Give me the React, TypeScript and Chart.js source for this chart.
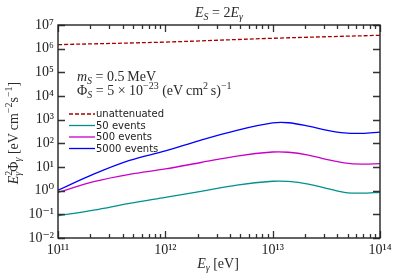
import React, { useEffect, useRef } from "react";
import { Chart, registerables } from "chart.js";

Chart.register(...registerables);

// ---- data ----
const energies = [1e11, 2.15e11, 4.64e11, 1e12, 2.15e12, 4.64e12, 1e13, 1.4e13, 2.15e13, 3.16e13, 4.64e13, 6.8e13, 1e14];
const flux5000 = [1.05, 5.0, 19, 48, 138, 355, 725, 740, 537, 363, 275, 263, 295];
const flux500 = [0.85, 2.4, 4.9, 8.3, 15.5, 29, 43, 42, 32, 21, 15, 13.2, 14];
const flux50 = [0.087, 0.15, 0.29, 0.52, 0.93, 1.72, 2.5, 2.45, 1.9, 1.26, 0.85, 0.78, 0.85];
const unattEnergies = [1e11, 1e12, 1e13, 1e14];
const unattFlux = [1.48e6, 1.9e6, 2.75e6, 3.67e6];

const seriesLabels = ["unattenuated", "50 events", "500 events", "5000 events"];
const seriesColors = ["#a50000", "#009090", "#c800c8", "#0000ff"];
const xDecades = [11, 12, 13, 14];
const yDecades = [-2, -1, 0, 1, 2, 3, 4, 5, 6, 7];

const SUP: Record<string, string> = {
  "0": "\u2070", "1": "\u00b9", "2": "\u00b2", "3": "\u00b3", "4": "\u2074",
  "5": "\u2075", "6": "\u2076", "7": "\u2077", "8": "\u2078", "9": "\u2079", "-": "\u207b",
};
const sup = (n: number) => String(n).split("").map((c) => SUP[c] || c).join("");
const tickLabel = (v: any) => "10" + sup(Math.round(Math.log10(Number(v))));

const SERIF = "'Liberation Serif', 'DejaVu Serif', serif";
const RM = (s: number) => `${s}px ${SERIF}`;
const IT = (s: number) => `italic ${s}px ${SERIF}`;

type Seg = { t: string; f: string; dy?: number; noAdv?: boolean };

function richWidth(ctx: CanvasRenderingContext2D, segs: Seg[]) {
  let w = 0;
  segs.forEach((s) => {
    ctx.font = s.f;
    if (!s.noAdv) w += ctx.measureText(s.t).width;
  });
  return w;
}

function drawRich(ctx: CanvasRenderingContext2D, segs: Seg[], x: number, y: number, align: "left" | "center") {
  let cx = align === "center" ? x - richWidth(ctx, segs) / 2 : x;
  ctx.textAlign = "left";
  ctx.textBaseline = "alphabetic";
  segs.forEach((s) => {
    ctx.font = s.f;
    ctx.fillText(s.t, cx, y + (s.dy || 0));
    if (!s.noAdv) cx += ctx.measureText(s.t).width;
  });
}

const decorPlugin = {
  id: "decor",
  afterDraw(chart: any) {
    const ctx: CanvasRenderingContext2D = chart.ctx;
    const { left, right, top, bottom } = chart.chartArea;
    const xs = chart.scales.x;
    const ys = chart.scales.y;
    ctx.save();
    // ticks
    ctx.strokeStyle = "#333";
    ctx.lineWidth = 1.3;
    ctx.beginPath();
    xDecades.forEach((e) => {
      for (let m = 1; m <= 9; m++) {
        if (e === 14 && m > 1) break;
        const px = Math.round(xs.getPixelForValue(m * Math.pow(10, e))) + 0.5;
        const len = m === 1 ? 7 : 4;
        ctx.moveTo(px, bottom);
        ctx.lineTo(px, bottom - len);
        ctx.moveTo(px, top);
        ctx.lineTo(px, top + len);
      }
    });
    yDecades.forEach((e) => {
      const py = Math.round(ys.getPixelForValue(Math.pow(10, e))) + 0.5;
      ctx.moveTo(left, py);
      ctx.lineTo(left + 7, py);
      ctx.moveTo(right, py);
      ctx.lineTo(right - 7, py);
    });
    ctx.stroke();
    // frame
    ctx.strokeStyle = "#222";
    ctx.lineWidth = 1.4;
    ctx.strokeRect(left, top, right - left, bottom - top);

    ctx.fillStyle = "#2a2a2a";
    // title
    drawRich(ctx, [
      { t: "E", f: IT(14) },
      { t: "S", f: IT(10), dy: 3 },
      { t: " = 2", f: RM(14) },
      { t: "E", f: IT(14) },
      { t: "\u03b3", f: IT(10), dy: 3 },
    ], 219, 17, "center");
    // x label
    drawRich(ctx, [
      { t: "E", f: IT(14) },
      { t: "\u03b3", f: IT(10), dy: 3 },
      { t: " [eV]", f: RM(14) },
    ], 218, 268, "center");
    // y label
    ctx.save();
    ctx.translate(18, 133);
    ctx.rotate(-Math.PI / 2);
    drawRich(ctx, [
      { t: "E", f: IT(14) },
      { t: "2", f: RM(10), dy: -6, noAdv: true },
      { t: "\u03b3", f: IT(10), dy: 3 },
      { t: "\u03a6", f: RM(14) },
      { t: "\u03b3", f: IT(10), dy: 3 },
      { t: " [eV\u2009cm", f: RM(14) },
      { t: "\u22122", f: RM(10), dy: -6 },
      { t: "s", f: RM(14) },
      { t: "\u22121", f: RM(10), dy: -6 },
      { t: "]", f: RM(14) },
    ], 0, 0, "center");
    ctx.restore();
    // annotations
    drawRich(ctx, [
      { t: "m", f: IT(14) },
      { t: "S", f: IT(10), dy: 3 },
      { t: " = 0.5\u2009MeV", f: RM(14) },
    ], 77, 81, "left");
    drawRich(ctx, [
      { t: "\u03a6", f: RM(14) },
      { t: "S", f: IT(10), dy: 3 },
      { t: " = 5 \u00d7 10", f: RM(14) },
      { t: "\u221223", f: RM(10), dy: -6 },
      { t: " (eV\u2009cm", f: RM(14) },
      { t: "2", f: RM(10), dy: -6 },
      { t: "\u2009s)", f: RM(14) },
      { t: "\u22121", f: RM(10), dy: -6 },
    ], 77, 95, "left");

    // legend
    const rows = [114, 125.5, 137, 148.5];
    seriesLabels.forEach((lab, i) => {
      const y = rows[i];
      ctx.strokeStyle = seriesColors[i];
      ctx.lineWidth = 1.3;
      ctx.setLineDash(i === 0 ? [4, 2] : []);
      ctx.beginPath();
      ctx.moveTo(69, y);
      ctx.lineTo(95, y);
      ctx.stroke();
      ctx.setLineDash([]);
      ctx.fillStyle = "#222";
      ctx.font = "10px 'DejaVu Sans', sans-serif";
      ctx.textAlign = "left";
      ctx.textBaseline = "middle";
      ctx.fillText(lab, 96, y + 0.5);
    });
    ctx.restore();
  },
};

export default function App() {
  const ref = useRef<HTMLCanvasElement | null>(null);
  useEffect(() => {
    document.body.style.margin = "0";
    const canvas = ref.current;
    if (!canvas) return;
    const mk = (xs: number[], ys: number[]) => xs.map((x, i) => ({ x, y: ys[i] }));
    const common = { borderWidth: 1.3, pointRadius: 0, tension: 0.35 };
    const chart = new Chart(canvas, {
      type: "line",
      data: {
        datasets: [
          { label: seriesLabels[0], data: mk(unattEnergies, unattFlux), borderColor: seriesColors[0], borderDash: [4, 2], ...common },
          { label: seriesLabels[1], data: mk(energies, flux50), borderColor: seriesColors[1], ...common },
          { label: seriesLabels[2], data: mk(energies, flux500), borderColor: seriesColors[2], ...common },
          { label: seriesLabels[3], data: mk(energies, flux5000), borderColor: seriesColors[3], ...common },
        ] as any,
      },
      options: {
        animation: false,
        responsive: true,
        maintainAspectRatio: false,
        layout: { padding: { left: 0, right: 19, top: 25, bottom: 0 } },
        plugins: { legend: { display: false }, tooltip: { enabled: false }, title: { display: false } },
        scales: {
          x: {
            type: "logarithmic",
            min: 1e11,
            max: 1e14,
            grid: { display: false, drawTicks: false },
            border: { display: false },
            afterBuildTicks: (s: any) => { s.ticks = xDecades.map((e) => ({ value: Math.pow(10, e) })); },
            afterFit: (s: any) => { s.height = 42; },
            ticks: { callback: tickLabel, autoSkip: false, maxRotation: 0, padding: 4, color: "#222", font: { family: SERIF, size: 14 } },
          },
          y: {
            type: "logarithmic",
            min: 1e-2,
            max: 1e7,
            grid: { display: false, drawTicks: false },
            border: { display: false },
            afterBuildTicks: (s: any) => { s.ticks = yDecades.map((e) => ({ value: Math.pow(10, e) })); },
            afterFit: (s: any) => { s.width = 58; },
            ticks: { callback: tickLabel, autoSkip: false, padding: 4, color: "#222", font: { family: SERIF, size: 14 } },
          },
        },
      } as any,
      plugins: [decorPlugin],
    });
    return () => chart.destroy();
  }, []);
  return (
    <div style={{ width: 399, height: 280, position: "relative" }}>
      <canvas ref={ref} />
    </div>
  );
}
